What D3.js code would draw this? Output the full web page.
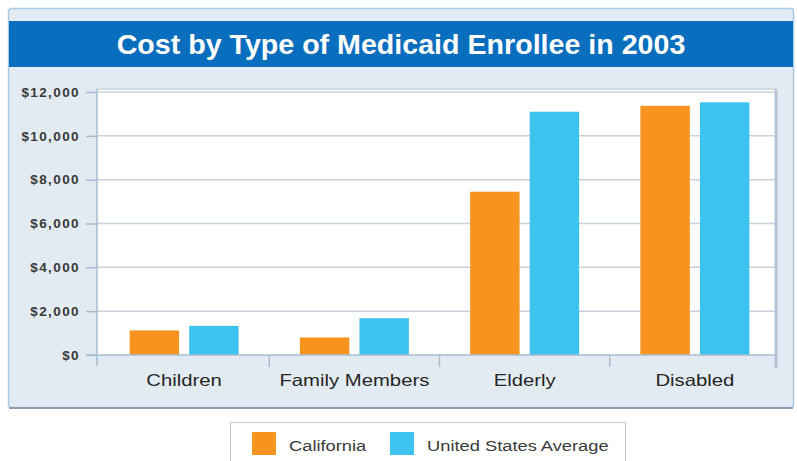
<!DOCTYPE html>
<html>
<head>
<meta charset="utf-8">
<script src="https://cdn.jsdelivr.net/npm/d3@7"></script>
<style>
  html, body { margin: 0; padding: 0; background: #ffffff; }
  svg { display: block; }
  text { font-family: "Liberation Sans", Arial, sans-serif; }
</style>
</head>
<body>
<svg id="chart" width="797" height="461"></svg>
<script>
// ---- Data ----
const title = "Cost by Type of Medicaid Enrollee in 2003";
const categories = ["Children", "Family Members", "Elderly", "Disabled"];
const seriesNames = ["California", "United States Average"];
const californiaValues = [1120, 800, 7450, 11370];
const usAverageValues = [1330, 1680, 11100, 11530];
const yTickValues = [0, 2000, 4000, 6000, 8000, 10000, 12000];
const seriesColors = ["#f7931e", "#3dc3f0"];

const seriesValues = [californiaValues, usAverageValues];
const rows = categories.map((c, i) => ({
  category: c,
  values: seriesNames.map((s, j) => ({ series: s, value: seriesValues[j][i], idx: j }))
}));

// ---- Layout ----
const svg = d3.select("#chart");
const plot = { left: 97, right: 776, top: 89, bottom: 355 };

// outer panel
svg.append("rect")
  .attr("x", 8.5).attr("y", 8.5).attr("width", 785).attr("height", 399)
  .attr("rx", 3)
  .attr("fill", "#e3ebf2").attr("stroke", "#a9c9e3").attr("stroke-width", 1.5);
svg.append("line")
  .attr("x1", 9).attr("x2", 793).attr("y1", 408).attr("y2", 408)
  .attr("stroke", "#8d9fb0").attr("stroke-width", 2);

// title bar
svg.append("rect")
  .attr("x", 9).attr("y", 21).attr("width", 784).attr("height", 46)
  .attr("fill", "#0a6ebe");
svg.append("text")
  .attr("transform", "translate(401,54) scale(1.06,1)")
  .attr("text-anchor", "middle")
  .attr("fill", "#ffffff")
  .attr("font-size", 27).attr("font-weight", "bold")
  .text(title);

// plot background
svg.append("rect")
  .attr("x", plot.left).attr("y", plot.top)
  .attr("width", plot.right - plot.left).attr("height", plot.bottom - plot.top)
  .attr("fill", "#ffffff");

// scales
const y = d3.scaleLinear().domain([0, 12000]).range([plot.bottom, 92]);
const x0 = d3.scaleBand().domain(categories)
  .range([99, 780]).paddingInner(0.36).paddingOuter(0.18);
const x1 = d3.scaleBand().domain(seriesNames)
  .range([0, x0.bandwidth()]).paddingInner(0.17);

// gridlines
svg.append("g")
  .selectAll("line").data(yTickValues.filter(v => v > 0)).join("line")
  .attr("x1", plot.left).attr("x2", plot.right)
  .attr("y1", d => y(d)).attr("y2", d => y(d))
  .attr("stroke", "#c7d2dd").attr("stroke-width", 1.5);

// plot top border
svg.append("line")
  .attr("x1", plot.left).attr("x2", plot.right)
  .attr("y1", plot.top).attr("y2", plot.top)
  .attr("stroke", "#c9d4df").attr("stroke-width", 1.5);

// bars
svg.append("g")
  .selectAll("g").data(rows).join("g")
  .attr("transform", d => `translate(${x0(d.category)},0)`)
  .selectAll("rect").data(d => d.values).join("rect")
  .attr("x", d => x1(d.series))
  .attr("y", d => y(d.value))
  .attr("width", x1.bandwidth())
  .attr("height", d => y(0) - y(d.value))
  .attr("fill", d => seriesColors[d.idx]);

// right border of plot
svg.append("line")
  .attr("x1", plot.right).attr("x2", plot.right)
  .attr("y1", plot.top).attr("y2", 368)
  .attr("stroke", "#b3c5d6").attr("stroke-width", 3);

// y axis
const yAxis = d3.axisLeft(y).tickValues(yTickValues)
  .tickSize(11).tickPadding(6)
  .tickFormat(d => "$" + d3.format(",")(d));
const gy = svg.append("g").attr("transform", `translate(${plot.left},0)`).call(yAxis);
gy.select(".domain").remove();
gy.selectAll(".tick line").attr("stroke", "#a9bccf").attr("stroke-width", 1.5);
gy.selectAll(".tick text")
  .attr("fill", "#3a3a3a").attr("font-size", 13.5).attr("font-weight", "bold")
  .attr("font-family", "'Liberation Sans', Arial, sans-serif")
  .attr("letter-spacing", 1.4);
svg.append("line")
  .attr("x1", plot.left).attr("x2", plot.left)
  .attr("y1", plot.top).attr("y2", 366)
  .attr("stroke", "#a9bccf").attr("stroke-width", 1.5);

// x axis baseline
svg.append("line")
  .attr("x1", 86).attr("x2", plot.right)
  .attr("y1", plot.bottom).attr("y2", plot.bottom)
  .attr("stroke", "#a9bccf").attr("stroke-width", 1.5);

// category separator ticks
const step = x0.step();
const boundaries = categories.slice(1).map(c => x0(c) - x0.paddingInner() * step / 2);
svg.append("g").selectAll("line").data(boundaries).join("line")
  .attr("x1", d => d).attr("x2", d => d)
  .attr("y1", plot.bottom).attr("y2", 367)
  .attr("stroke", "#a9bccf").attr("stroke-width", 1.5);

// category labels
svg.append("g").selectAll("text").data(categories).join("text")
  .attr("transform", d => `translate(${x0(d) + x0.bandwidth() / 2},386) scale(1.23,1)`)
  .attr("text-anchor", "middle")
  .attr("fill", "#262626")
  .attr("font-size", 16.5)
  .text(d => d);

// ---- Legend ----
svg.append("rect")
  .attr("x", 230.5).attr("y", 422.5).attr("width", 395).attr("height", 60)
  .attr("fill", "#ffffff").attr("stroke", "#c9c9c9").attr("stroke-width", 1);
const legendX = [252, 390];
const lg = svg.append("g").selectAll("g").data(seriesNames).join("g")
  .attr("transform", (d, i) => `translate(${legendX[i]},432)`);
lg.append("rect")
  .attr("width", 24).attr("height", 23)
  .attr("fill", (d, i) => seriesColors[i]);
lg.append("text")
  .attr("transform", `translate(37,19) scale(1.22,1)`)
  .attr("fill", "#3a3a3a")
  .attr("font-size", 15)
  .text(d => d);
</script>
</body>
</html>
